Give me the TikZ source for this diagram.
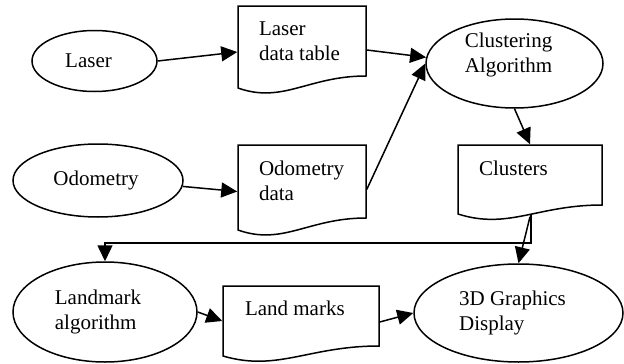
\documentclass[tikz,border=0pt]{standalone}
\usepackage{fontspec}
\setmainfont{Liberation Serif}
\newfontfamily\figfont{Liberation Serif}
\usetikzlibrary{shapes.geometric,arrows.meta,calc}
\begin{document}
\begin{tikzpicture}[x=1pt,y=-1pt,
  font=\figfont\fontsize{21}{25}\selectfont,
  every path/.style={line width=1.5pt},
  ell/.style={ellipse,draw,inner sep=0pt},
  etext/.style={align=left,inner sep=0pt,xshift=-6pt},
  docbox/.style={rectangle,draw=none,inner sep=0pt},
  doctext/.style={anchor=north west,align=left,inner sep=0pt,xshift=21pt,yshift=-15.5pt},
  arr/.style={-{Triangle[length=16pt,width=15pt]}},
  ]
\useasboundingbox (0,0) rectangle (624,364);
\newcommand\docoutline[5]{%
  \draw (#1,#2) -- (#3,#2) -- (#3,#5) .. controls ({#1+0.55*(#3-#1)},#5) and ({#1+0.35*(#3-#1)},{#4+16}) .. (#1,#4) -- cycle;}

% ellipses
\node[ell,minimum width=125pt,minimum height=61pt,label={[etext]center:Laser}] (laser) at (94.5,61) {};
\node[ell,minimum width=170pt,minimum height=73pt,label={[etext,xshift=4pt]center:Odometry}] (odo) at (98,180.5) {};
\node[ell,minimum width=177pt,minimum height=89pt,label={[etext,yshift=9pt]center:Clustering\\Algorithm}] (clus) at (514.5,63.5) {};
\node[ell,minimum width=184pt,minimum height=100pt,label={[etext,xshift=-1pt]center:Landmark\\algorithm}] (lma) at (105,312) {};
\node[ell,minimum width=209pt,minimum height=98pt,label={[etext]center:3D Graphics\\Display}] (disp) at (518.5,313) {};

% documents
\node[docbox,minimum width=128pt,minimum height=82pt,label={[doctext]north west:Laser\\data table}] (ldt) at (302,47) {};
\docoutline{238}{6}{366}{88}{76}
\node[docbox,minimum width=128pt,minimum height=85pt,label={[doctext]north west:Odometry\\data}] (odd) at (302,187.5) {};
\docoutline{238}{145}{366}{230}{218}
\node[docbox,minimum width=144pt,minimum height=69pt,label={[doctext]north west:Clusters}] (clu) at (530,179.5) {};
\docoutline{458}{145}{602}{214}{205}
\node[docbox,minimum width=156pt,minimum height=70pt,label={[doctext,xshift=1pt,yshift=1pt]north west:Land marks}] (lm) at (301,321) {};
\docoutline{223}{286}{379}{356}{346}

% connectors
\draw[arr] (laser.east) -- ([yshift=-5pt]ldt.west);
\draw[arr] ([yshift=-3pt]ldt.east) -- (clus.176);
\draw[arr] (odo.-4) -- ([yshift=-4pt]odd.west);
\draw[arr] ([yshift=-2pt]odd.east) -- (clus.west);
\draw[arr] (clus.south) -- (clu.north);
\draw[arr] ([yshift=-2pt]clu.south) -- (disp.north);
\draw[arr] ([xshift=1pt]clu.south) -- ++(0,28) -| (lma.north);
\draw[arr] (lma.east) -- (lm.west);
\draw[arr] ([yshift=-1pt]lm.east) -- (disp.west);
\end{tikzpicture}
\end{document}
